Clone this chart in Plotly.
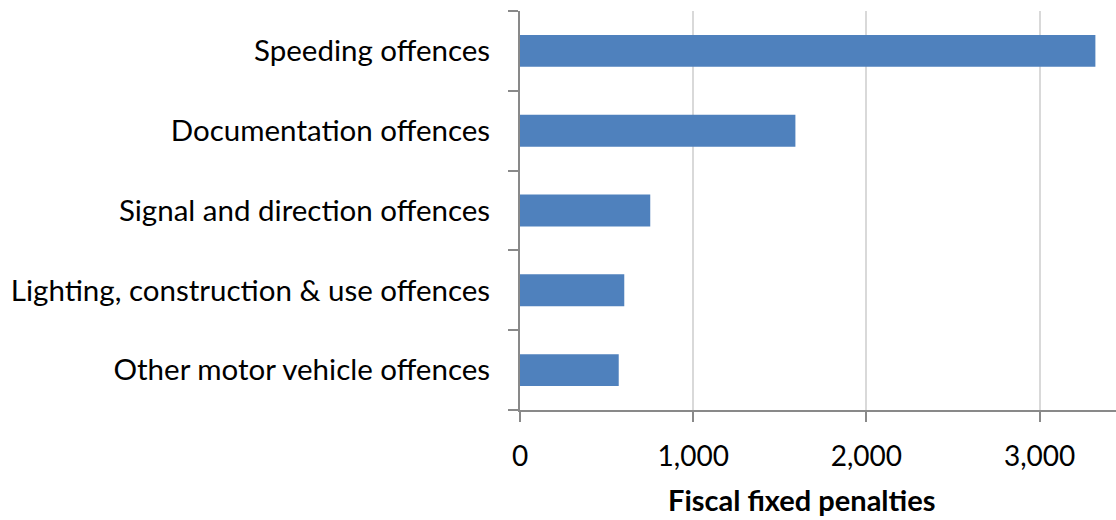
import plotly.graph_objects as go

categories = ["Speeding offences", "Documentation offences", "Signal and direction offences",
              "Lighting, construction & use offences", "Other motor vehicle offences"]
values = [3322, 1590, 752, 602, 570]
x_ticks = [0, 1000, 2000, 3000]
x_tick_labels = ["0", "1,000", "2,000", "3,000"]
x_title = "Fiscal fixed penalties"

FONT = "Lato"

fig = go.Figure(go.Bar(
    x=values, y=categories, orientation="h",
    marker=dict(color="#4F81BD", line=dict(width=0)),
    width=0.4,
))

fig.update_layout(
    width=1116, height=520,
    margin=dict(l=520, r=0, t=11, b=110),
    plot_bgcolor="white", paper_bgcolor="white",
    font=dict(family=FONT, size=30, color="black"),
    showlegend=False,
    bargap=0.6,
)

fig.update_xaxes(
    range=[0, 3441],
    tickvals=x_ticks, ticktext=x_tick_labels,
    showgrid=True, gridcolor="#D9D9D9", gridwidth=2,
    showline=True, linecolor="#898989", linewidth=2,
    ticks="outside", ticklen=10, tickwidth=2, tickcolor="#898989",
    zeroline=False,
    ticklabelstandoff=10,
    tickfont=dict(family=FONT, size=28, color="black"),
)

fig.update_yaxes(
    categoryorder="array", categoryarray=categories[::-1],
    showline=True, linecolor="#898989", linewidth=2,
    ticks="outside", ticklen=10, tickwidth=2, tickcolor="#898989",
    tickson="boundaries",
    showgrid=False,
    ticklabelstandoff=22,
    tickfont=dict(family=FONT, size=29.5, color="black"),
)

fig.add_annotation(
    text="<b>" + x_title + "</b>", xref="paper", yref="paper",
    x=(801 - 520) / 596, y=-(500 - 410) / 399, xanchor="center", yanchor="middle",
    showarrow=False, font=dict(family=FONT, size=29, color="black"),
)

fig.write_html("out.html")
